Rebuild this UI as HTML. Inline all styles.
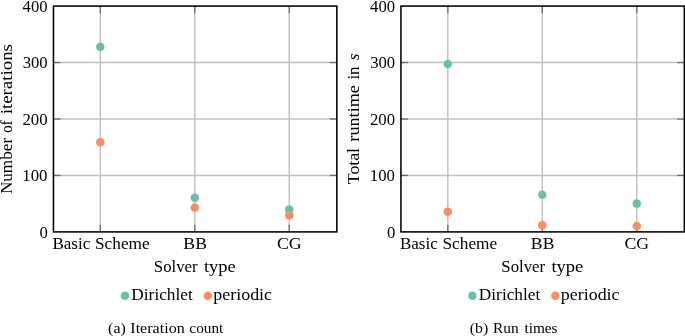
<!DOCTYPE html>
<html><head><meta charset="utf-8"><title>Solver comparison</title>
<style>
html,body{margin:0;padding:0;background:#fff;}
body{width:685px;height:336px;overflow:hidden;}
svg{display:block;will-change:transform}
text{font-family:"Liberation Serif",serif;fill:#000;}
.t{font-size:17.0px;}
.c{font-size:14.6px;}
.d{font-size:17.7px;}
</style></head><body>
<svg width="685" height="336" viewBox="0 0 685 336">
<rect width="685" height="336" fill="#fff"/>
<line x1="100.33" y1="6.08" x2="100.33" y2="231.9" stroke="#c0c0c0" stroke-width="1.4"/>
<line x1="194.80" y1="6.08" x2="194.80" y2="231.9" stroke="#c0c0c0" stroke-width="1.4"/>
<line x1="289.27" y1="6.08" x2="289.27" y2="231.9" stroke="#c0c0c0" stroke-width="1.4"/>
<line x1="53.45" y1="175.44" x2="336.84999999999997" y2="175.44" stroke="#c0c0c0" stroke-width="1.4"/>
<line x1="53.45" y1="118.99" x2="336.84999999999997" y2="118.99" stroke="#c0c0c0" stroke-width="1.4"/>
<line x1="53.45" y1="62.53" x2="336.84999999999997" y2="62.53" stroke="#c0c0c0" stroke-width="1.4"/>
<line x1="100.33" y1="6.08" x2="100.33" y2="13.18" stroke="#6c6c6c" stroke-width="1.3"/>
<line x1="100.33" y1="231.9" x2="100.33" y2="224.8" stroke="#6c6c6c" stroke-width="1.3"/>
<line x1="194.80" y1="6.08" x2="194.80" y2="13.18" stroke="#6c6c6c" stroke-width="1.3"/>
<line x1="194.80" y1="231.9" x2="194.80" y2="224.8" stroke="#6c6c6c" stroke-width="1.3"/>
<line x1="289.27" y1="6.08" x2="289.27" y2="13.18" stroke="#6c6c6c" stroke-width="1.3"/>
<line x1="289.27" y1="231.9" x2="289.27" y2="224.8" stroke="#6c6c6c" stroke-width="1.3"/>
<line x1="53.45" y1="175.44" x2="60.550000000000004" y2="175.44" stroke="#6c6c6c" stroke-width="1.3"/>
<line x1="336.84999999999997" y1="175.44" x2="329.74999999999994" y2="175.44" stroke="#6c6c6c" stroke-width="1.3"/>
<line x1="53.45" y1="118.99" x2="60.550000000000004" y2="118.99" stroke="#6c6c6c" stroke-width="1.3"/>
<line x1="336.84999999999997" y1="118.99" x2="329.74999999999994" y2="118.99" stroke="#6c6c6c" stroke-width="1.3"/>
<line x1="53.45" y1="62.53" x2="60.550000000000004" y2="62.53" stroke="#6c6c6c" stroke-width="1.3"/>
<line x1="336.84999999999997" y1="62.53" x2="329.74999999999994" y2="62.53" stroke="#6c6c6c" stroke-width="1.3"/>
<circle cx="100.33" cy="46.73" r="4.25" fill="#66c2a5"/>
<circle cx="194.80" cy="197.69" r="4.25" fill="#66c2a5"/>
<circle cx="289.27" cy="209.49" r="4.25" fill="#66c2a5"/>
<circle cx="100.33" cy="142.14" r="4.25" fill="#fc8d62"/>
<circle cx="194.80" cy="207.45" r="4.25" fill="#fc8d62"/>
<circle cx="289.27" cy="215.19" r="4.25" fill="#fc8d62"/>
<rect x="53.45" y="6.08" width="283.4" height="225.82" fill="none" stroke="#000" stroke-width="1.55"/>
<circle cx="124.90" cy="295.7" r="4.25" fill="#66c2a5"/>
<circle cx="207.80" cy="295.7" r="4.25" fill="#fc8d62"/>
<line x1="447.83" y1="6.08" x2="447.83" y2="231.9" stroke="#c0c0c0" stroke-width="1.4"/>
<line x1="542.30" y1="6.08" x2="542.30" y2="231.9" stroke="#c0c0c0" stroke-width="1.4"/>
<line x1="636.77" y1="6.08" x2="636.77" y2="231.9" stroke="#c0c0c0" stroke-width="1.4"/>
<line x1="400.95" y1="175.44" x2="684.3499999999999" y2="175.44" stroke="#c0c0c0" stroke-width="1.4"/>
<line x1="400.95" y1="118.99" x2="684.3499999999999" y2="118.99" stroke="#c0c0c0" stroke-width="1.4"/>
<line x1="400.95" y1="62.53" x2="684.3499999999999" y2="62.53" stroke="#c0c0c0" stroke-width="1.4"/>
<line x1="447.83" y1="6.08" x2="447.83" y2="13.18" stroke="#6c6c6c" stroke-width="1.3"/>
<line x1="447.83" y1="231.9" x2="447.83" y2="224.8" stroke="#6c6c6c" stroke-width="1.3"/>
<line x1="542.30" y1="6.08" x2="542.30" y2="13.18" stroke="#6c6c6c" stroke-width="1.3"/>
<line x1="542.30" y1="231.9" x2="542.30" y2="224.8" stroke="#6c6c6c" stroke-width="1.3"/>
<line x1="636.77" y1="6.08" x2="636.77" y2="13.18" stroke="#6c6c6c" stroke-width="1.3"/>
<line x1="636.77" y1="231.9" x2="636.77" y2="224.8" stroke="#6c6c6c" stroke-width="1.3"/>
<line x1="400.95" y1="175.44" x2="408.05" y2="175.44" stroke="#6c6c6c" stroke-width="1.3"/>
<line x1="684.3499999999999" y1="175.44" x2="677.2499999999999" y2="175.44" stroke="#6c6c6c" stroke-width="1.3"/>
<line x1="400.95" y1="118.99" x2="408.05" y2="118.99" stroke="#6c6c6c" stroke-width="1.3"/>
<line x1="684.3499999999999" y1="118.99" x2="677.2499999999999" y2="118.99" stroke="#6c6c6c" stroke-width="1.3"/>
<line x1="400.95" y1="62.53" x2="408.05" y2="62.53" stroke="#6c6c6c" stroke-width="1.3"/>
<line x1="684.3499999999999" y1="62.53" x2="677.2499999999999" y2="62.53" stroke="#6c6c6c" stroke-width="1.3"/>
<circle cx="447.83" cy="63.89" r="4.25" fill="#66c2a5"/>
<circle cx="542.30" cy="194.75" r="4.25" fill="#66c2a5"/>
<circle cx="636.77" cy="203.62" r="4.25" fill="#66c2a5"/>
<circle cx="447.83" cy="211.63" r="4.25" fill="#fc8d62"/>
<circle cx="542.30" cy="225.13" r="4.25" fill="#fc8d62"/>
<circle cx="636.77" cy="226.03" r="4.25" fill="#fc8d62"/>
<rect x="400.95" y="6.08" width="283.4" height="225.82" fill="none" stroke="#000" stroke-width="1.55"/>
<circle cx="472.40" cy="295.7" r="4.25" fill="#66c2a5"/>
<circle cx="555.30" cy="295.7" r="4.25" fill="#fc8d62"/>
<text id="Ly0" transform="translate(39.38,237.85) scale(0.9439,1)" class="d">0</text>
<text id="Ly100" transform="translate(22.34,181.39) scale(0.9460,1)" class="d">100</text>
<text id="Ly200" transform="translate(22.49,124.94) scale(0.9477,1)" class="d">200</text>
<text id="Ly300" transform="translate(22.66,68.48) scale(0.9394,1)" class="d">300</text>
<text id="Ly400" transform="translate(22.59,12.03) scale(0.9420,1)" class="d">400</text>
<text id="Lx0a" transform="translate(52.38,249.30) scale(1.0028,1)" class="t">Basic</text>
<text id="Lx0b" transform="translate(95.02,249.30) scale(1.0157,1)" class="t">Scheme</text>
<text id="Lx1" transform="translate(183.37,249.30) scale(1.0407,1)" class="t">BB</text>
<text id="Lx2" transform="translate(276.97,249.30) scale(1.0424,1)" class="t">CG</text>
<text id="Lxla" transform="translate(153.86,272.00) scale(0.9848,1)" class="t">Solver</text>
<text id="Lxlb" transform="translate(203.89,272.00) scale(1.0889,1)" class="t">type</text>
<text id="Ll0" transform="translate(131.33,300.40) scale(1.0181,1)" class="t">Dirichlet</text>
<text id="Ll1" transform="translate(213.36,300.40) scale(1.0544,1)" class="t">periodic</text>
<text id="Ry0" transform="translate(386.88,237.85) scale(0.9439,1)" class="d">0</text>
<text id="Ry100" transform="translate(369.84,181.39) scale(0.9460,1)" class="d">100</text>
<text id="Ry200" transform="translate(369.99,124.94) scale(0.9477,1)" class="d">200</text>
<text id="Ry300" transform="translate(370.16,68.48) scale(0.9394,1)" class="d">300</text>
<text id="Ry400" transform="translate(370.09,12.03) scale(0.9420,1)" class="d">400</text>
<text id="Rx0a" transform="translate(399.88,249.30) scale(1.0028,1)" class="t">Basic</text>
<text id="Rx0b" transform="translate(442.52,249.30) scale(1.0157,1)" class="t">Scheme</text>
<text id="Rx1" transform="translate(530.87,249.30) scale(1.0407,1)" class="t">BB</text>
<text id="Rx2" transform="translate(624.47,249.30) scale(1.0424,1)" class="t">CG</text>
<text id="Rxla" transform="translate(501.36,272.00) scale(0.9848,1)" class="t">Solver</text>
<text id="Rxlb" transform="translate(551.39,272.00) scale(1.0889,1)" class="t">type</text>
<text id="Rl0" transform="translate(478.83,300.40) scale(1.0181,1)" class="t">Dirichlet</text>
<text id="Rl1" transform="translate(560.86,300.40) scale(1.0544,1)" class="t">periodic</text>
<text id="Lyl1" transform="translate(11.70,194.12) rotate(-90) scale(1.0111,1)" class="t">Number</text>
<text id="Lyl2" transform="translate(11.70,133.11) rotate(-90) scale(0.9086,1)" class="t">of</text>
<text id="Lyl3" transform="translate(11.70,114.37) rotate(-90) scale(1.1130,1)" class="t">iterations</text>
<text id="Ryl1" transform="translate(359.20,184.20) rotate(-90) scale(1.0452,1)" class="t">Total</text>
<text id="Ryl2" transform="translate(359.20,141.65) rotate(-90) scale(1.0704,1)" class="t">runtime</text>
<text id="Ryl3" transform="translate(359.20,79.62) rotate(-90) scale(1.0012,1)" class="t">in</text>
<text id="Ryl4" transform="translate(359.20,60.21) rotate(-90) scale(1.0166,1)" class="t"><tspan font-style="italic">s</tspan></text>
<text id="Lc1" transform="translate(108.08,332.55) scale(1.0915,1)" class="c">(a)</text>
<text id="Lc2" transform="translate(130.31,332.55) scale(1.1012,1)" class="c">Iteration</text>
<text id="Lc3" transform="translate(189.37,332.55) scale(1.0464,1)" class="c">count</text>
<text id="Rc1" transform="translate(469.76,332.55) scale(1.0917,1)" class="c">(b)</text>
<text id="Rc2" transform="translate(493.01,332.55) scale(1.0554,1)" class="c">Run</text>
<text id="Rc3" transform="translate(524.45,332.55) scale(1.0483,1)" class="c">times</text>
</svg>
</body></html>
